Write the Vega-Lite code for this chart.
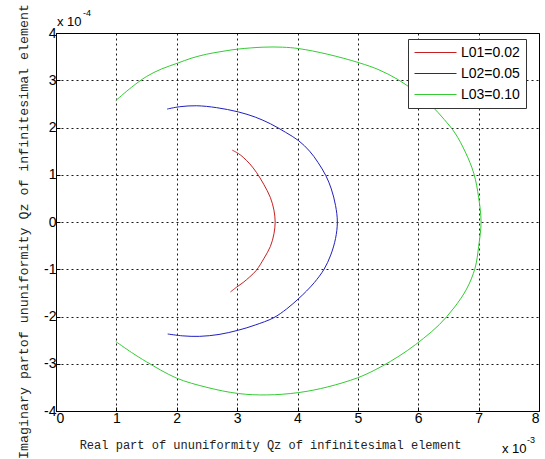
{
  "$schema": "https://vega.github.io/schema/vega-lite/v6.json",
  "width": 483,
  "height": 378,
  "autosize": {"type": "none"},
  "padding": {"left": 56, "top": 33, "right": 6, "bottom": 48},
  "background": "white",
  "config": {
    "view": {"stroke": "black", "strokeWidth": 1},
    "axis": {
      "domainColor": "black",
      "tickColor": "black",
      "tickSize": -4,
      "gridColor": "black",
      "gridDash": [2, 3],
      "gridOpacity": 0.9,
      "labelFont": "Liberation Sans",
      "labelFontSize": 14,
      "labelColor": "black",
      "titleFont": "Liberation Mono",
      "titleFontWeight": "normal",
      "titleColor": "#222"
    },
    "legend": {
      "orient": "none",
      "legendX": 352,
      "legendY": 6,
      "fillColor": "white",
      "strokeColor": "#333",
      "padding": 6,
      "symbolType": "M-3,0L3,0",
      "symbolSize": 196,
      "symbolOffset": 14,
      "symbolStrokeWidth": 1,
      "labelFont": "Liberation Sans",
      "labelFontSize": 14,
      "labelColor": "black",
      "labelOffset": 18,
      "rowPadding": 6,
      "title": null
    }
  },
  "layer": [
    {
      "data": {
        "values": [
          {"s": "L01=0.02", "i": 1, "x": 0.00292, "y": 0.000152},
          {"s": "L01=0.02", "i": 2, "x": 0.00302, "y": 0.000145},
          {"s": "L01=0.02", "i": 3, "x": 0.00310, "y": 0.000137},
          {"s": "L01=0.02", "i": 4, "x": 0.00321, "y": 0.000123},
          {"s": "L01=0.02", "i": 5, "x": 0.00332, "y": 0.000105},
          {"s": "L01=0.02", "i": 6, "x": 0.00344, "y": 0.000080},
          {"s": "L01=0.02", "i": 7, "x": 0.00355, "y": 0.000052},
          {"s": "L01=0.02", "i": 8, "x": 0.00361, "y": 0.000025},
          {"s": "L01=0.02", "i": 9, "x": 0.00363, "y": 0.0},
          {"s": "L01=0.02", "i": 10, "x": 0.00361, "y": -0.000025},
          {"s": "L01=0.02", "i": 11, "x": 0.00355, "y": -0.000052},
          {"s": "L01=0.02", "i": 12, "x": 0.00344, "y": -0.000078},
          {"s": "L01=0.02", "i": 13, "x": 0.00332, "y": -0.000102},
          {"s": "L01=0.02", "i": 14, "x": 0.00321, "y": -0.000116},
          {"s": "L01=0.02", "i": 15, "x": 0.00310, "y": -0.000128},
          {"s": "L01=0.02", "i": 16, "x": 0.00299, "y": -0.000138},
          {"s": "L01=0.02", "i": 17, "x": 0.00289, "y": -0.000148},

          {"s": "L02=0.05", "i": 1, "x": 0.00184, "y": 0.000239},
          {"s": "L02=0.05", "i": 2, "x": 0.00205, "y": 0.000244},
          {"s": "L02=0.05", "i": 3, "x": 0.00233, "y": 0.000246},
          {"s": "L02=0.05", "i": 4, "x": 0.00266, "y": 0.000242},
          {"s": "L02=0.05", "i": 5, "x": 0.00302, "y": 0.000233},
          {"s": "L02=0.05", "i": 6, "x": 0.00330, "y": 0.000222},
          {"s": "L02=0.05", "i": 7, "x": 0.00355, "y": 0.000208},
          {"s": "L02=0.05", "i": 8, "x": 0.00380, "y": 0.000190},
          {"s": "L02=0.05", "i": 9, "x": 0.00402, "y": 0.000172},
          {"s": "L02=0.05", "i": 10, "x": 0.00420, "y": 0.000150},
          {"s": "L02=0.05", "i": 11, "x": 0.00434, "y": 0.000126},
          {"s": "L02=0.05", "i": 12, "x": 0.00447, "y": 0.000098},
          {"s": "L02=0.05", "i": 13, "x": 0.00456, "y": 0.000070},
          {"s": "L02=0.05", "i": 14, "x": 0.00463, "y": 0.000035},
          {"s": "L02=0.05", "i": 15, "x": 0.00466, "y": 0.0},
          {"s": "L02=0.05", "i": 16, "x": 0.00463, "y": -0.000035},
          {"s": "L02=0.05", "i": 17, "x": 0.00455, "y": -0.000070},
          {"s": "L02=0.05", "i": 18, "x": 0.00444, "y": -0.000100},
          {"s": "L02=0.05", "i": 19, "x": 0.00428, "y": -0.000128},
          {"s": "L02=0.05", "i": 20, "x": 0.00415, "y": -0.000146},
          {"s": "L02=0.05", "i": 21, "x": 0.00402, "y": -0.000162},
          {"s": "L02=0.05", "i": 22, "x": 0.00382, "y": -0.000184},
          {"s": "L02=0.05", "i": 23, "x": 0.00360, "y": -0.000203},
          {"s": "L02=0.05", "i": 24, "x": 0.00330, "y": -0.000218},
          {"s": "L02=0.05", "i": 25, "x": 0.00302, "y": -0.000229},
          {"s": "L02=0.05", "i": 26, "x": 0.00270, "y": -0.000238},
          {"s": "L02=0.05", "i": 27, "x": 0.00238, "y": -0.000242},
          {"s": "L02=0.05", "i": 28, "x": 0.00210, "y": -0.000241},
          {"s": "L02=0.05", "i": 29, "x": 0.00185, "y": -0.000237},

          {"s": "L03=0.10", "i": 1, "x": 0.00099, "y": 0.000257},
          {"s": "L03=0.10", "i": 2, "x": 0.00125, "y": 0.000285},
          {"s": "L03=0.10", "i": 3, "x": 0.00150, "y": 0.000308},
          {"s": "L03=0.10", "i": 4, "x": 0.00175, "y": 0.000324},
          {"s": "L03=0.10", "i": 5, "x": 0.00201, "y": 0.000336},
          {"s": "L03=0.10", "i": 6, "x": 0.00225, "y": 0.000347},
          {"s": "L03=0.10", "i": 7, "x": 0.00249, "y": 0.000355},
          {"s": "L03=0.10", "i": 8, "x": 0.00275, "y": 0.000361},
          {"s": "L03=0.10", "i": 9, "x": 0.00302, "y": 0.000366},
          {"s": "L03=0.10", "i": 10, "x": 0.00343, "y": 0.000370},
          {"s": "L03=0.10", "i": 11, "x": 0.00375, "y": 0.000370},
          {"s": "L03=0.10", "i": 12, "x": 0.00402, "y": 0.000367},
          {"s": "L03=0.10", "i": 13, "x": 0.00450, "y": 0.000355},
          {"s": "L03=0.10", "i": 14, "x": 0.00502, "y": 0.000337},
          {"s": "L03=0.10", "i": 15, "x": 0.00535, "y": 0.000322},
          {"s": "L03=0.10", "i": 16, "x": 0.00567, "y": 0.000301},
          {"s": "L03=0.10", "i": 17, "x": 0.00595, "y": 0.000276},
          {"s": "L03=0.10", "i": 18, "x": 0.00622, "y": 0.000246},
          {"s": "L03=0.10", "i": 19, "x": 0.00643, "y": 0.000217},
          {"s": "L03=0.10", "i": 20, "x": 0.00661, "y": 0.000188},
          {"s": "L03=0.10", "i": 21, "x": 0.00678, "y": 0.000148},
          {"s": "L03=0.10", "i": 22, "x": 0.00692, "y": 0.000103},
          {"s": "L03=0.10", "i": 23, "x": 0.00700, "y": 0.000052},
          {"s": "L03=0.10", "i": 24, "x": 0.00704, "y": 0.0},
          {"s": "L03=0.10", "i": 25, "x": 0.00700, "y": -0.000052},
          {"s": "L03=0.10", "i": 26, "x": 0.00694, "y": -0.000098},
          {"s": "L03=0.10", "i": 27, "x": 0.00680, "y": -0.000142},
          {"s": "L03=0.10", "i": 28, "x": 0.00659, "y": -0.000182},
          {"s": "L03=0.10", "i": 29, "x": 0.00635, "y": -0.000217},
          {"s": "L03=0.10", "i": 30, "x": 0.00609, "y": -0.000246},
          {"s": "L03=0.10", "i": 31, "x": 0.00582, "y": -0.000272},
          {"s": "L03=0.10", "i": 32, "x": 0.00554, "y": -0.000295},
          {"s": "L03=0.10", "i": 33, "x": 0.00527, "y": -0.000314},
          {"s": "L03=0.10", "i": 34, "x": 0.00499, "y": -0.000330},
          {"s": "L03=0.10", "i": 35, "x": 0.00450, "y": -0.000349},
          {"s": "L03=0.10", "i": 36, "x": 0.00402, "y": -0.000361},
          {"s": "L03=0.10", "i": 37, "x": 0.00349, "y": -0.000366},
          {"s": "L03=0.10", "i": 38, "x": 0.00302, "y": -0.000363},
          {"s": "L03=0.10", "i": 39, "x": 0.00250, "y": -0.000350},
          {"s": "L03=0.10", "i": 40, "x": 0.00199, "y": -0.000330},
          {"s": "L03=0.10", "i": 41, "x": 0.00150, "y": -0.000296},
          {"s": "L03=0.10", "i": 42, "x": 0.00125, "y": -0.000276},
          {"s": "L03=0.10", "i": 43, "x": 0.00099, "y": -0.000253}
        ]
      },
      "mark": {"type": "line", "strokeWidth": 1, "interpolate": "catmull-rom"},
      "encoding": {
        "x": {
          "field": "x",
          "type": "quantitative",
          "scale": {"domain": [0, 0.008], "nice": false, "zero": false},
          "axis": {
            "values": [0, 0.001, 0.002, 0.003, 0.004, 0.005, 0.006, 0.007, 0.008],
            "labelExpr": "'' + round(datum.value * 1000)",
            "labelPadding": 4,
            "title": "Real part of ununiformity Qz of infinitesimal element",
            "titleFontSize": 12,
            "titleX": 214,
            "titleY": 37,
            "titleBaseline": "alphabetic"
          }
        },
        "y": {
          "field": "y",
          "type": "quantitative",
          "scale": {"domain": [-0.0004, 0.0004], "nice": false, "zero": false},
          "axis": {
            "values": [-0.0004, -0.0003, -0.0002, -0.0001, 0, 0.0001, 0.0002, 0.0003, 0.0004],
            "labelExpr": "'' + round(datum.value * 10000)",
            "labelPadding": 4,
            "title": "Imaginary partof ununiformity Qz of infinitesimal element",
            "titleFontSize": 13.3,
            "titleX": -33,
            "titleY": 198,
            "titleAngle": 270,
            "titleBaseline": "middle",
            "titleAlign": "center"
          }
        },
        "color": {
          "field": "s",
          "type": "nominal",
          "scale": {"domain": ["L01=0.02", "L02=0.05", "L03=0.10"], "range": ["#c82020", "#2020c0", "#33cc33"]}
        },
        "order": {"field": "i", "type": "quantitative"}
      }
    },
    {
      "data": {"values": [{"t": "x 10"}]},
      "mark": {"type": "text", "align": "left", "baseline": "alphabetic", "dx": 1, "dy": -7, "font": "Liberation Sans", "fontSize": 13, "color": "black"},
      "encoding": {"x": {"datum": 0}, "y": {"datum": 0.0004}, "text": {"field": "t"}}
    },
    {
      "data": {"values": [{"t": "-4"}]},
      "mark": {"type": "text", "align": "left", "baseline": "alphabetic", "dx": 27, "dy": -17, "font": "Liberation Sans", "fontSize": 9, "color": "black"},
      "encoding": {"x": {"datum": 0}, "y": {"datum": 0.0004}, "text": {"field": "t"}}
    },
    {
      "data": {"values": [{"t": "x 10"}]},
      "mark": {"type": "text", "align": "left", "baseline": "alphabetic", "dx": -37, "dy": 42, "font": "Liberation Sans", "fontSize": 13, "color": "black"},
      "encoding": {"x": {"datum": 0.008}, "y": {"datum": -0.0004}, "text": {"field": "t"}}
    },
    {
      "data": {"values": [{"t": "-3"}]},
      "mark": {"type": "text", "align": "left", "baseline": "alphabetic", "dx": -12, "dy": 32, "font": "Liberation Sans", "fontSize": 9, "color": "black"},
      "encoding": {"x": {"datum": 0.008}, "y": {"datum": -0.0004}, "text": {"field": "t"}}
    }
  ]
}
